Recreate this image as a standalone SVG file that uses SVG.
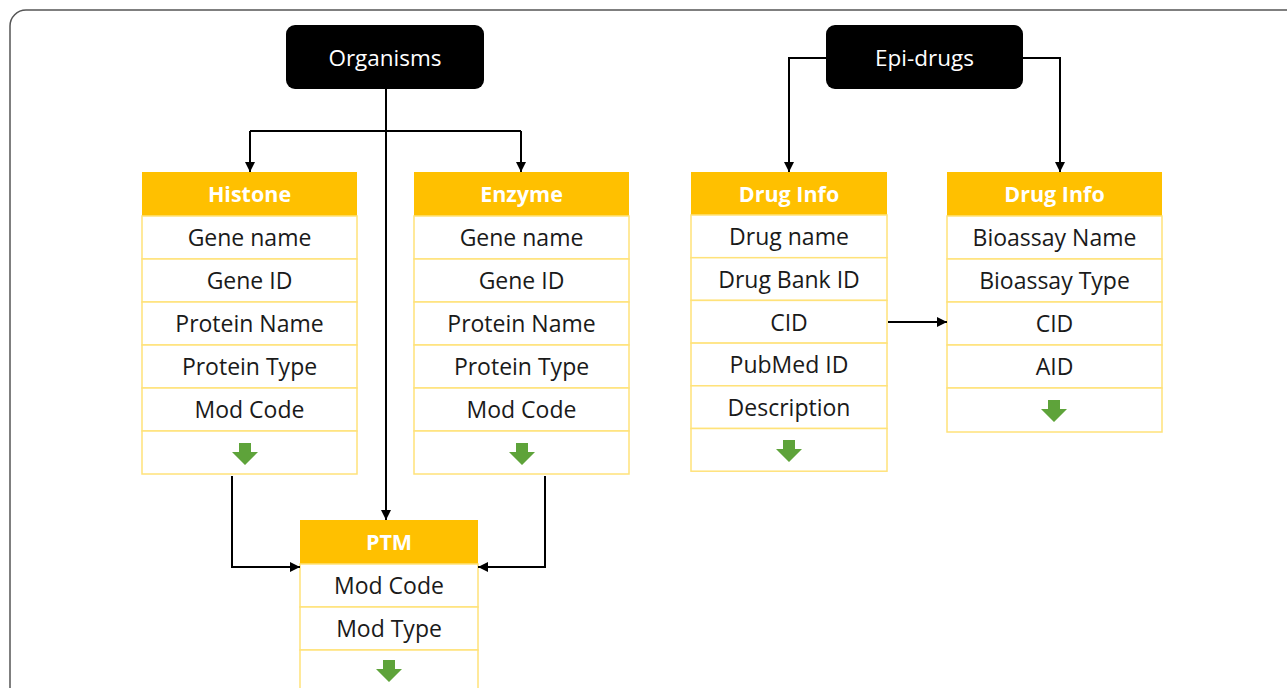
<svg xmlns="http://www.w3.org/2000/svg" width="1287" height="688" viewBox="0 0 1287 688">
<style>
.frame{fill:#fff;stroke:#555;stroke-width:1.5}
.root rect{fill:#000}
.root text{fill:#fff;font-family:"Open Sans",sans-serif;font-size:22.5px;text-anchor:middle}
.hd{fill:#FFC000}
.hdt{fill:#fff;font-family:"Open Sans",sans-serif;font-weight:bold;font-size:21.5px;text-anchor:middle}
.row{fill:#fff;stroke:#FFE27A;stroke-width:1.5}
.rt{fill:#1a1a1a;font-family:"Open Sans",sans-serif;font-size:23px;text-anchor:middle}
.ga{fill:#5EA33A}
.conn path{fill:none;stroke:#000;stroke-width:2}
</style>
<defs>
<marker id="ah" viewBox="0 0 10 10" refX="10" refY="5" markerWidth="5" markerHeight="5" orient="auto" markerUnits="strokeWidth">
<path d="M0,0 L10,5 L0,10 z" fill="#000"/>
</marker>
<path id="garrow" d="M-6,0 H6 V9 H13 L0,22 L-13,9 H-6 Z"/>
</defs>
<rect class="frame" x="10" y="10" width="1300" height="700" rx="16"/>

<g id="organisms" class="root">
<rect x="286" y="25" width="198" height="64" rx="9"/>
<text x="385" y="66">Organisms</text>
</g>
<g id="epidrugs" class="root">
<rect x="826" y="25" width="197" height="64" rx="9"/>
<text x="924.5" y="66">Epi-drugs</text>
</g>

<g id="histone">
<rect class="hd" x="142" y="172" width="215" height="44"/>
<text class="hdt" x="249.5" y="202">Histone</text>
<rect class="row" x="142" y="216" width="215" height="43"/>
<rect class="row" x="142" y="259" width="215" height="43"/>
<rect class="row" x="142" y="302" width="215" height="43"/>
<rect class="row" x="142" y="345" width="215" height="43"/>
<rect class="row" x="142" y="388" width="215" height="43"/>
<rect class="row" x="142" y="431" width="215" height="43"/>
<text class="rt" x="249.5" y="246">Gene name</text>
<text class="rt" x="249.5" y="289">Gene ID</text>
<text class="rt" x="249.5" y="332">Protein Name</text>
<text class="rt" x="249.5" y="375">Protein Type</text>
<text class="rt" x="249.5" y="418">Mod Code</text>
<use href="#garrow" class="ga" x="245" y="443"/>
</g>

<g id="enzyme">
<rect class="hd" x="414" y="172" width="215" height="44"/>
<text class="hdt" x="521.5" y="202">Enzyme</text>
<rect class="row" x="414" y="216" width="215" height="43"/>
<rect class="row" x="414" y="259" width="215" height="43"/>
<rect class="row" x="414" y="302" width="215" height="43"/>
<rect class="row" x="414" y="345" width="215" height="43"/>
<rect class="row" x="414" y="388" width="215" height="43"/>
<rect class="row" x="414" y="431" width="215" height="43"/>
<text class="rt" x="521.5" y="246">Gene name</text>
<text class="rt" x="521.5" y="289">Gene ID</text>
<text class="rt" x="521.5" y="332">Protein Name</text>
<text class="rt" x="521.5" y="375">Protein Type</text>
<text class="rt" x="521.5" y="418">Mod Code</text>
<use href="#garrow" class="ga" x="522" y="443"/>
</g>

<g id="ptm">
<rect class="hd" x="300" y="520" width="178" height="44"/>
<text class="hdt" x="389" y="550">PTM</text>
<rect class="row" x="300" y="564" width="178" height="43"/>
<rect class="row" x="300" y="607" width="178" height="43"/>
<rect class="row" x="300" y="650" width="178" height="43"/>
<text class="rt" x="389" y="594">Mod Code</text>
<text class="rt" x="389" y="637">Mod Type</text>
<use href="#garrow" class="ga" x="389" y="660"/>
</g>

<g id="druginfo1">
<rect class="hd" x="691" y="172" width="196" height="43"/>
<text class="hdt" x="789" y="202">Drug Info</text>
<rect class="row" x="691" y="215" width="196" height="42.7"/>
<rect class="row" x="691" y="257.7" width="196" height="42.7"/>
<rect class="row" x="691" y="300.4" width="196" height="42.7"/>
<rect class="row" x="691" y="343.1" width="196" height="42.7"/>
<rect class="row" x="691" y="385.8" width="196" height="42.7"/>
<rect class="row" x="691" y="428.5" width="196" height="42.7"/>
<text class="rt" x="789" y="245">Drug name</text>
<text class="rt" x="789" y="288">Drug Bank ID</text>
<text class="rt" x="789" y="331">CID</text>
<text class="rt" x="789" y="373">PubMed ID</text>
<text class="rt" x="789" y="416">Description</text>
<use href="#garrow" class="ga" x="789" y="440"/>
</g>

<g id="druginfo2">
<rect class="hd" x="947" y="172" width="215" height="44"/>
<text class="hdt" x="1054.5" y="202">Drug Info</text>
<rect class="row" x="947" y="216" width="215" height="43"/>
<rect class="row" x="947" y="259" width="215" height="43"/>
<rect class="row" x="947" y="302" width="215" height="43"/>
<rect class="row" x="947" y="345" width="215" height="43"/>
<rect class="row" x="947" y="388" width="215" height="44"/>
<text class="rt" x="1054.5" y="246">Bioassay Name</text>
<text class="rt" x="1054.5" y="289">Bioassay Type</text>
<text class="rt" x="1054.5" y="332">CID</text>
<text class="rt" x="1054.5" y="375">AID</text>
<use href="#garrow" class="ga" x="1054" y="400"/>
</g>

<g class="conn">
<path d="M386,89 V520" marker-end="url(#ah)"/>
<path d="M250,131 H521"/>
<path d="M250,131 V172" marker-end="url(#ah)"/>
<path d="M521,131 V172" marker-end="url(#ah)"/>
<path d="M232,476 V567 H300" marker-end="url(#ah)"/>
<path d="M545,476 V567 H478" marker-end="url(#ah)"/>
<path d="M826,58 H789 V172" marker-end="url(#ah)"/>
<path d="M1023,58 H1060 V172" marker-end="url(#ah)"/>
<path d="M888,322 H947" marker-end="url(#ah)"/>
</g>
</svg>
